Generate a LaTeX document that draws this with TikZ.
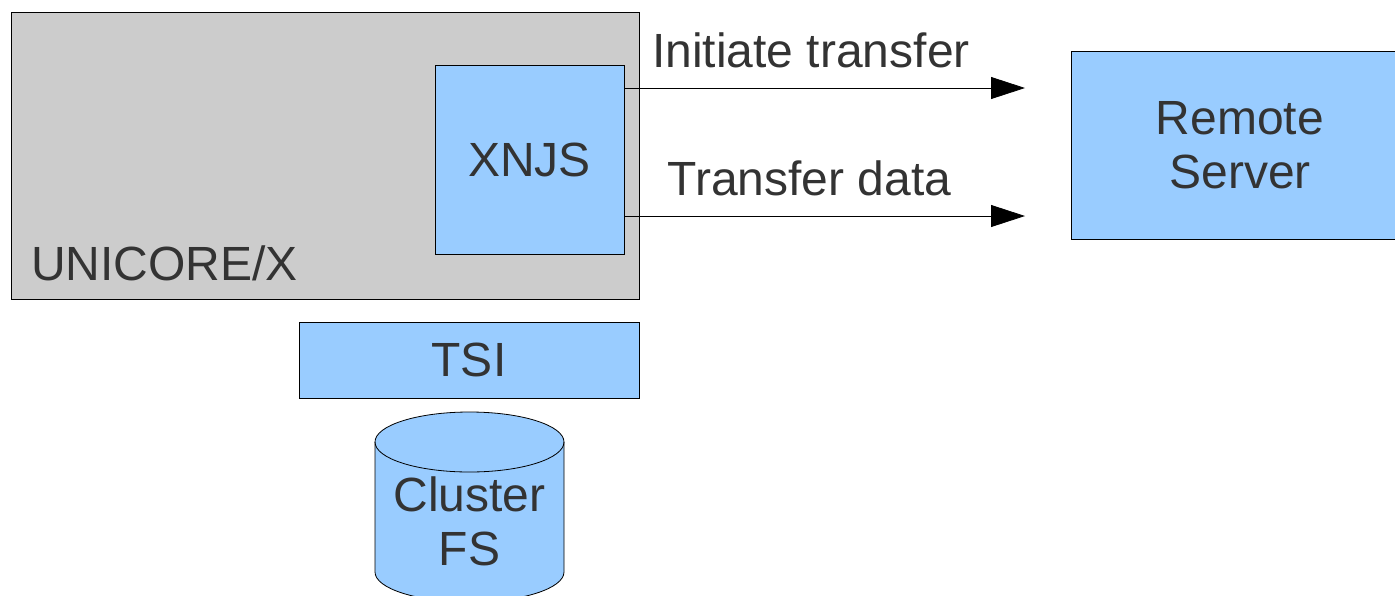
\documentclass[tikz,border=0pt]{standalone}
\usepackage{fontspec}
\setmainfont{Liberation Sans}
\usetikzlibrary{arrows.meta}
\definecolor{boxgray}{HTML}{CCCCCC}
\definecolor{boxblue}{HTML}{99CCFF}
\definecolor{txtgray}{HTML}{333333}

\begin{document}
\begin{tikzpicture}[x=1pt,y=-1pt,
    bigfont/.style={text=txtgray, font=\fontsize{48}{54}\selectfont},
    box/.style={draw, line width=0.8pt, inner sep=0pt, bigfont},
    arr/.style={line width=0.8pt, -{Triangle[length=34pt,width=22pt]}}]
    \useasboundingbox (0,0) rectangle (1395,595);
    % boxes
    \node[box, fill=boxgray, minimum width=628pt, minimum height=287pt] (unicore) at (325,155.5) {};
    \node[bigfont, anchor=base west, inner sep=0pt] (unicorelabel) at (31,280) {UNICORE/X};
    \node[box, fill=boxblue, minimum width=189pt, minimum height=189pt] (xnjs) at (529.5,159.5) {XNJS};
    \node[box, fill=boxblue, minimum width=338pt, minimum height=188pt, align=center] (remote) at (1240,145) {Remote\\Server};
    \node[box, fill=boxblue, minimum width=340pt, minimum height=76pt] (tsi) at (469,360) {TSI};
    % cluster file system drum
    \draw[line width=0.8pt, fill=boxblue] (375,442) -- (375,572)
        arc[start angle=180, end angle=360, x radius=94.5pt, y radius=30pt] -- (564,442)
        arc[start angle=0, end angle=180, x radius=94.5pt, y radius=30pt] -- cycle;
    \draw[line width=0.8pt] (375,442) arc[start angle=180, end angle=360, x radius=94.5pt, y radius=30pt];
    \node[bigfont, align=center, inner sep=0pt] (clusterfs) at (469.5,521) {Cluster\\FS};
    % transfers
    \coordinate (initend) at (1025,88);
    \coordinate (dataend) at (1025,216);
    \draw[arr] (xnjs.east |- initend) -- (initend);
    \draw[arr] (xnjs.east |- dataend) -- (dataend);
    \node[bigfont, anchor=base, inner sep=0pt] (initlabel) at (811,67) {Initiate transfer};
    \node[bigfont, anchor=base, inner sep=0pt] (datalabel) at (809.5,195) {Transfer data};
\end{tikzpicture}
\end{document}
